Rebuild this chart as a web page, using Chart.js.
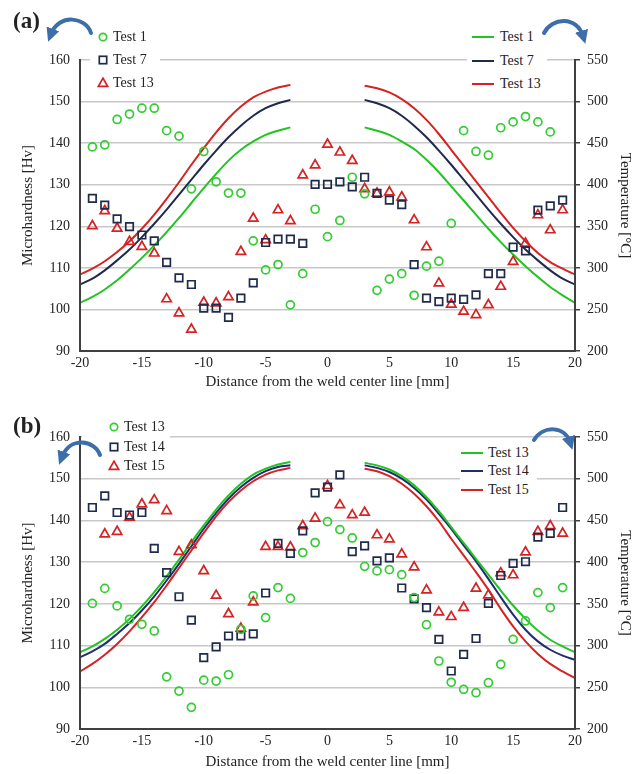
<!DOCTYPE html>
<html>
<head>
<meta charset="utf-8">
<script src="https://cdn.jsdelivr.net/npm/chart.js@4.4.1/dist/chart.umd.min.js"></script>
<style>
body{margin:0;background:#fff;font-family:'Liberation Serif','Times New Roman',serif;color:#222}
#wrap{position:relative;width:644px;height:774px;overflow:hidden}
canvas{position:absolute;left:0}
.lbl{position:absolute;font-weight:bold;font-size:23px;line-height:26px}
.legend{position:absolute;background:#fff;font-size:14px}
.legend .item{position:absolute;white-space:nowrap;line-height:18px}
.legend svg{position:absolute}
#setas{position:absolute;left:0;top:0}
</style>
</head>
<body>
<div id="wrap">
<canvas id="chartA" width="644" height="392" style="top:0"></canvas>
<canvas id="chartB" width="644" height="382" style="top:392px"></canvas>
<div class="lbl" style="left:13px;top:8px">(a)</div>
<div class="lbl" style="left:13px;top:413px">(b)</div>
<svg id="setas" width="644" height="774">
<defs>
<marker id="ponta" viewBox="0 0 10 10" refX="4" refY="5" markerWidth="3.4" markerHeight="3.4" orient="auto">
<path d="M0,0 L10,5 L0,10 z" fill="#3d6ea9"/>
</marker>
</defs>
<g stroke="#3d6ea9" stroke-width="4" fill="none" stroke-linecap="round" marker-end="url(#ponta)">
<path d="M91 33 C86 17 59 13 51 34"/>
<path d="M544 33 C552 17 577 16 583 36"/>
<path d="M100 455 C95 440 70 436 62 457"/>
<path d="M534 440 C543 425 565 426 570 442"/>
</g>
</svg>
</div>
<script>

// measurement positions [mm]
let posA1=[-19,-18,-17,-16,-15,-14,-13,-12,-11,-10,-9,-8,-7,-6,-5,-4,-3,-2,-1,0,1,2,3,4,5,6,7,8,9,10,11,12,13,14,15,16,17,18]
let posAll=[-19,-18,-17,-16,-15,-14,-13,-12,-11,-10,-9,-8,-7,-6,-5,-4,-3,-2,-1,0,1,2,3,4,5,6,7,8,9,10,11,12,13,14,15,16,17,18,19]
let posB15=[-18,-17,-16,-15,-14,-13,-12,-11,-10,-9,-8,-7,-6,-5,-4,-3,-2,-1,0,1,2,3,4,5,6,7,8,9,10,11,12,13,14,15,16,17,18,19]

// microhardness [Hv]
let hv1=[139.1,139.6,145.7,147.0,148.4,148.4,143.0,141.7,129.0,138.0,130.7,128.0,128.0,116.5,109.5,110.8,101.1,108.6,124.1,117.5,121.4,131.8,127.8,104.6,107.3,108.6,103.4,110.4,111.6,120.7,143.0,138.0,137.1,143.7,145.1,146.4,145.1,142.7]
let hv7=[126.7,125.1,121.8,119.9,117.9,116.5,111.3,107.6,106.0,100.3,100.3,98.1,102.7,106.4,116.1,116.9,116.9,115.9,130.1,130.1,130.7,129.5,131.8,127.9,126.3,125.2,110.8,102.7,101.9,102.7,102.4,103.5,108.6,108.6,115.0,114.1,123.9,124.9,126.3]
let hv13=[120.1,123.7,119.5,116.3,115.1,113.5,102.5,99.1,95.2,101.7,101.5,103.0,113.9,121.9,116.7,123.9,121.3,132.3,134.7,139.7,137.8,135.8,129.0,127.9,128.2,127.0,121.5,115.0,106.3,101.2,99.5,98.7,101.1,105.5,111.5,115.9,122.7,119.1,123.9]
let hv14=[143.1,145.9,141.9,141.3,141.9,133.3,127.5,121.7,116.1,107.1,109.7,112.3,112.3,112.8,122.6,134.5,132.1,137.5,146.6,148.0,150.9,132.5,133.9,130.3,131.0,123.8,121.2,119.1,111.5,103.9,107.9,111.7,120.1,126.8,129.7,130.1,136.0,136.9,143.1]
let hv15=[136.7,137.3,140.7,143.9,144.9,142.3,132.5,134.1,127.9,122.0,117.6,114.1,120.4,133.7,133.7,133.6,138.7,140.5,148.3,143.7,141.3,141.9,136.5,135.5,131.9,128.8,123.3,118.0,116.9,119.1,123.7,122.1,127.4,126.9,132.4,137.3,138.7,136.9]

// temperature curves [°C], on each side of the weld
let posLeft=[-20,-19,-18,-17,-16,-15,-14,-13,-12,-11,-10,-9,-8,-7,-6,-5,-4,-3]
let posRight=[3,4,5,6,7,8,9,10,11,12,13,14,15,16,17,18,19,20]
let t1Left=[258,265,274,285,298,312,327,343,360,378,396,413,429,442,452,460,465,469]
let t1Right=[469,465,460,452,443,430,415,398,381,364,347,331,316,302,289,277,267,258]
let t7Left=[280,287,297,309,322,337,353,370,388,406,424,441,457,471,483,492,498,502]
let t7Right=[502,498,492,483,471,457,441,424,406,388,370,353,337,322,309,297,287,280]
let t13Left=[292,299,308,319,332,347,364,383,403,424,444,463,480,494,505,512,517,520]
let t13Right=[519,516,511,503,492,478,461,442,423,404,385,366,348,332,318,307,299,292]
let t14Left=[286,293,302,314,327,342,359,378,398,419,440,459,476,490,501,509,514,516]
let t14Right=[516,513,508,500,489,475,458,440,420,401,380,358,337,319,305,295,288,283]
let t15Left=[269,278,289,302,317,334,352,372,393,414,435,455,472,486,497,505,510,513]
let t15Right=[512,509,503,494,482,467,449,428,408,388,367,344,323,305,290,278,269,261]

let GREEN='#33cc33', GREEN_LINE='#22c322', NAVY='#1f2a4c', BLUE_LINE='#1f2e6e', RED='#d62222'
let FONT="'Liberation Serif','Times New Roman',serif"
let AXIS='#404040'

function points(label,pos,vals,style,color,radius){
  return {label:label,data:pos.map((x,i)=>({x:x,y:vals[i]})),showLine:false,
    pointStyle:style,pointRadius:radius,borderColor:color,backgroundColor:'rgba(0,0,0,0)',
    pointBorderWidth:1.7,yAxisID:'y'}
}

function curve(label,left,right,color){
  let d=posLeft.map((x,i)=>({x:x,y:left[i]}))
  d.push({x:0,y:null})
  posRight.forEach((x,i)=>d.push({x:x,y:right[i]}))
  return {label:label,data:d,borderColor:color,borderWidth:2,pointRadius:0,
    cubicInterpolationMode:'monotone',spanGaps:false,yAxisID:'y2'}
}

function chart(id,datasets,top,bottom,height,titlePad){
  let f={family:FONT,size:14}
  return new Chart(document.getElementById(id),{
    type:'line',
    data:{datasets:datasets},
    options:{
      responsive:false,animation:false,events:[],
      layout:{padding:{top:top,left:0,right:0,bottom:0}},
      plugins:{legend:{display:false},tooltip:{enabled:false}},
      scales:{
        x:{type:'linear',min:-20,max:20,
          ticks:{stepSize:5,font:f,color:'#222',padding:4},
          grid:{display:false,drawTicks:false},
          border:{display:true,color:AXIS,width:2,z:1},
          title:{display:true,text:'Distance from the weld center line [mm]',font:{family:FONT,size:15},color:'#222',padding:{top:0,bottom:titlePad}},
          afterFit:s=>{s.height=height-bottom}},
        y:{position:'left',min:90,max:160,
          ticks:{stepSize:10,font:f,color:'#222',padding:10},
          grid:{color:'#c8c8c8',lineWidth:1.5,drawTicks:false},
          border:{color:AXIS,width:2,z:1},
          title:{display:true,text:'Microhardness [Hv]',font:{family:FONT,size:15},color:'#222',padding:{top:19}},
          afterFit:s=>{s.width=80}},
        y2:{position:'right',min:200,max:550,
          ticks:{stepSize:50,font:f,color:'#222',padding:7},
          grid:{drawOnChartArea:false,tickLength:5,color:AXIS,lineWidth:1.5},
          border:{color:AXIS,width:2,z:1},
          title:{display:true,text:'Temperature [°C]',font:{family:FONT,size:15},color:'#222',padding:{top:10}},
          afterFit:s=>{s.width=69}}
      }
    }
  })
}

let chartA=chart('chartA',[
  points('Test 1',posA1,hv1,'circle',GREEN,4),
  points('Test 7',posAll,hv7,'rect',NAVY,5.3),
  points('Test 13',posAll,hv13,'triangle',RED,5.4),
  curve('Test 1',t1Left,t1Right,GREEN_LINE),
  curve('Test 7',t7Left,t7Right,NAVY),
  curve('Test 13',t13Left,t13Right,RED)
],60,351,392,1)

let chartB=chart('chartB',[
  points('Test 13',posAll,hv13,'circle',GREEN,4),
  points('Test 14',posAll,hv14,'rect',NAVY,5.3),
  points('Test 15',posB15,hv15,'triangle',RED,5.4),
  curve('Test 13',t13Left,t13Right,GREEN_LINE),
  curve('Test 14',t14Left,t14Right,BLUE_LINE),
  curve('Test 15',t15Left,t15Right,RED)
],45,337,382,3)

// legend symbol, same shapes as the chart points
function symbol(ds){
  let c=ds.borderColor
  if(ds.showLine!==false)
    return `<svg width="22" height="4" style="left:-11px;top:-2px"><line x1="0" y1="2" x2="22" y2="2" stroke="${c}" stroke-width="2"/></svg>`
  let s=''
  if(ds.pointStyle==='circle')s=`<circle cx="6" cy="6" r="3.7" fill="none" stroke="${c}" stroke-width="1.7"/>`
  if(ds.pointStyle==='rect')s=`<rect x="2.3" y="2.3" width="7.4" height="7.4" fill="none" stroke="${c}" stroke-width="1.7"/>`
  if(ds.pointStyle==='triangle')s=`<path d="M6 1.2 L10.6 9.3 L1.4 9.3 Z" fill="none" stroke="${c}" stroke-width="1.7"/>`
  return `<svg width="12" height="12" style="left:-6px;top:-6px">${s}</svg>`
}

function legend(ch,idx,box,rows,symX,textX){
  let el=document.createElement('div')
  el.className='legend'
  el.style.cssText=`left:${box[0]}px;top:${box[1]}px;width:${box[2]}px;height:${box[3]}px`
  idx.forEach((k,i)=>{
    let ds=ch.data.datasets[k]
    let y=rows[i]-box[1]
    let m=document.createElement('div')
    m.className='item'
    m.style.cssText=`left:${symX-box[0]}px;top:${y}px`
    m.innerHTML=symbol(ds)
    let t=document.createElement('div')
    t.className='item'
    t.style.cssText=`left:${textX-box[0]}px;top:${y-9}px`
    t.textContent=ds.label
    el.appendChild(m)
    el.appendChild(t)
  })
  document.getElementById('wrap').insertBefore(el,document.getElementById('setas'))
}

legend(chartA,[0,1,2],[90,27,70,66],[37,60,83],103,113)
legend(chartA,[3,4,5],[467,27,80,67],[37,61,84],483,500)
legend(chartB,[0,1,2],[82,417,88,58],[427,447,466],114,124)
legend(chartB,[3,4,5],[460,443,77,56],[453,471,490],472,488)

</script>
</body>
</html>
